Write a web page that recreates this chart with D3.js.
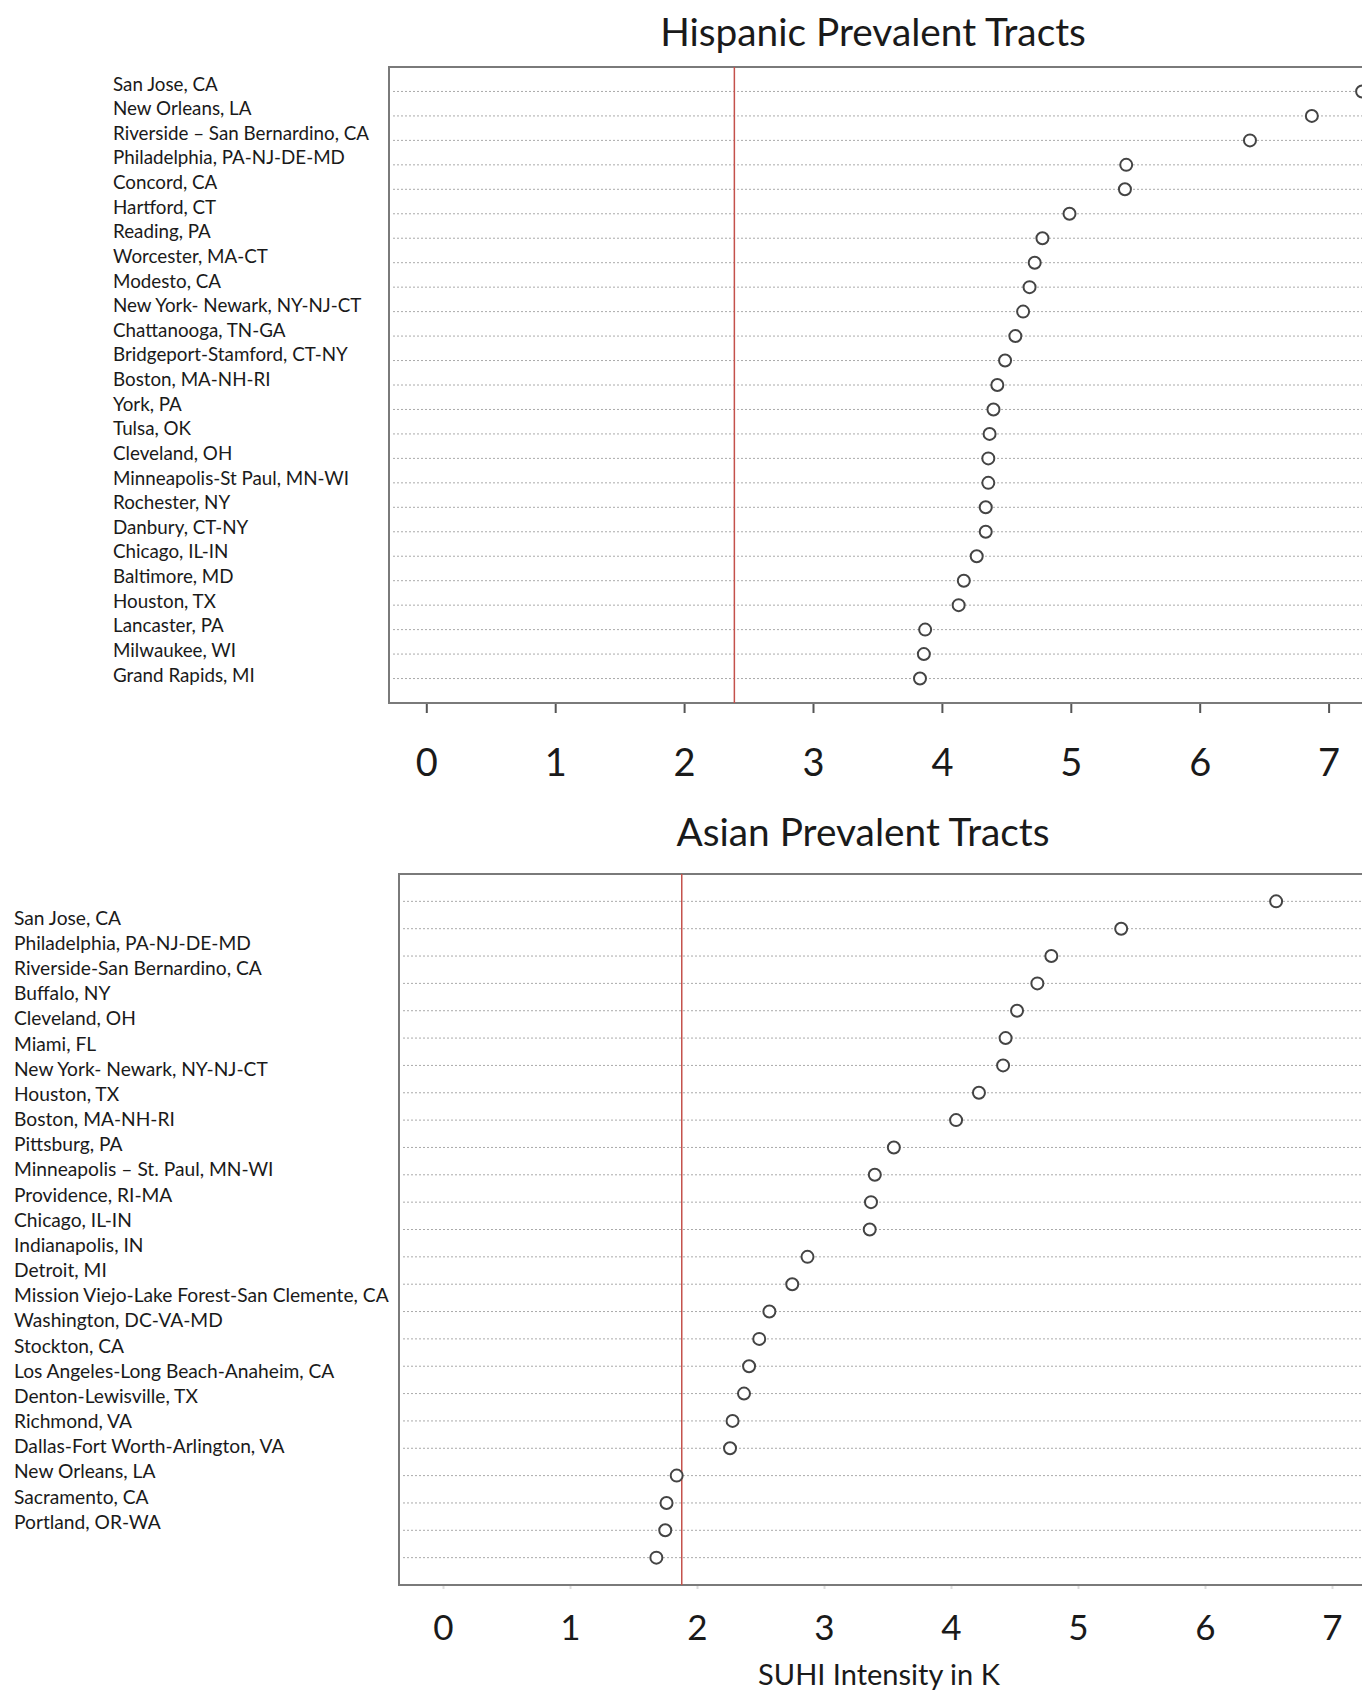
<!DOCTYPE html>
<html>
<head>
<meta charset="utf-8">
<script src="https://cdn.jsdelivr.net/npm/d3@7"></script>
<style>
  body { margin: 0; background: #fff; }
  svg text { font-family: Lato, "Open Sans", sans-serif; fill: #1a1a1a; }
</style>
</head>
<body>
<div id="chart"></div>
<script>
// values (SUHI intensity in K)
var hispCities = ["San Jose, CA", "New Orleans, LA", "Riverside \u2013 San Bernardino, CA", "Philadelphia, PA-NJ-DE-MD",
  "Concord, CA", "Hartford, CT", "Reading, PA", "Worcester, MA-CT", "Modesto, CA", "New York- Newark, NY-NJ-CT",
  "Chattanooga, TN-GA", "Bridgeport-Stamford, CT-NY", "Boston, MA-NH-RI", "York, PA", "Tulsa, OK", "Cleveland, OH",
  "Minneapolis-St Paul, MN-WI", "Rochester, NY", "Danbury, CT-NY", "Chicago, IL-IN", "Baltimore, MD", "Houston, TX",
  "Lancaster, PA", "Milwaukee, WI", "Grand Rapids, MI"];
var hispValues = [7.26, 6.87, 6.39, 5.43, 5.42, 4.99, 4.78, 4.72, 4.68, 4.63, 4.57, 4.49, 4.43, 4.40, 4.37,
  4.36, 4.36, 4.34, 4.34, 4.27, 4.17, 4.13, 3.87, 3.86, 3.83];
var hispRef = 2.39;

var asianCities = ["San Jose, CA", "Philadelphia, PA-NJ-DE-MD", "Riverside-San Bernardino, CA", "Buffalo, NY",
  "Cleveland, OH", "Miami, FL", "New York- Newark, NY-NJ-CT", "Houston, TX", "Boston, MA-NH-RI", "Pittsburg, PA",
  "Minneapolis \u2013 St. Paul, MN-WI", "Providence, RI-MA", "Chicago, IL-IN", "Indianapolis, IN", "Detroit, MI",
  "Mission Viejo-Lake Forest-San Clemente, CA", "Washington, DC-VA-MD", "Stockton, CA", "Los Angeles-Long Beach-Anaheim, CA",
  "Denton-Lewisville, TX", "Richmond, VA", "Dallas-Fort Worth-Arlington, VA", "New Orleans, LA", "Sacramento, CA",
  "Portland, OR-WA"];
var asianValues = [6.56, 5.34, 4.79, 4.68, 4.52, 4.43, 4.41, 4.22, 4.04, 3.55, 3.40, 3.37, 3.36, 2.87, 2.75,
  2.57, 2.49, 2.41, 2.37, 2.28, 2.26, 1.84, 1.76, 1.75, 1.68];
var asianRef = 1.88;

var xTicks = [0, 1, 2, 3, 4, 5, 6, 7];

var width = 1362;
var height = 1691;

var svg = d3.select('#chart').append('svg')
  .attr('width', width)
  .attr('height', height);

function dotPanel(p) {
  var g = svg.append('g');
  var x = d3.scaleLinear().domain([0, 7]).range(p.xRange);
  var y = d3.scalePoint().domain(p.cities).range([p.top, p.bottom]).padding(1);
  // the city names in the source are a separate text block, not quite aligned to the rows
  var yLab = d3.scalePoint().domain(p.cities).range(p.labelRange);

  g.append('rect')
    .attr('x', p.left).attr('y', p.top)
    .attr('width', width + 10 - p.left).attr('height', p.bottom - p.top)
    .attr('fill', 'none').attr('stroke', '#7a7a7a').attr('stroke-width', 2);

  g.selectAll('.grid').data(p.cities).enter().append('line')
    .attr('x1', p.left + 4).attr('x2', width)
    .attr('y1', function(d) { return y(d); })
    .attr('y2', function(d) { return y(d); })
    .attr('stroke', '#aaaaaa').attr('stroke-width', 1).attr('stroke-dasharray', '2,2');

  g.append('line')
    .attr('x1', x(p.ref)).attr('x2', x(p.ref))
    .attr('y1', p.top).attr('y2', p.bottom)
    .attr('stroke', '#c4514b').attr('stroke-width', 1.5);

  var axis = d3.axisBottom(x).tickValues(xTicks).tickSize(p.tickLen).tickPadding(p.tickPad).tickFormat(d3.format('d'));
  var ax = g.append('g')
    .attr('transform', 'translate(0,' + (p.bottom + 1) + ')')
    .call(axis);
  ax.select('.domain').remove();
  ax.selectAll('.tick line').attr('stroke', p.tickColor).attr('stroke-width', 2);
  ax.selectAll('.tick text')
    .attr('font-size', p.tickFont)
    .attr('font-family', 'Lato, "Open Sans", sans-serif')
    .attr('fill', '#111');

  g.selectAll('.dot').data(p.values).enter().append('circle')
    .attr('cx', function(d) { return x(d); })
    .attr('cy', function(d, i) { return y(p.cities[i]); })
    .attr('r', 6)
    .attr('fill', '#fff').attr('stroke', '#444').attr('stroke-width', 2);

  g.selectAll('.lab').data(p.cities).enter().append('text')
    .attr('x', p.labelX)
    .attr('y', function(d) { return yLab(d); })
    .attr('dy', '0.35em')
    .attr('font-size', p.labelFont)
    .text(function(d) { return d; });

  g.append('text')
    .attr('x', p.titleX).attr('y', p.titleY)
    .attr('text-anchor', 'middle').attr('dy', '0.35em')
    .attr('font-size', 38.8)
    .text(p.title);
}

dotPanel({
  title: 'Hispanic Prevalent Tracts', titleX: 873, titleY: 32,
  cities: hispCities, values: hispValues, ref: hispRef,
  left: 389, top: 67, bottom: 703, xRange: [426.3, 1328.6],
  labelX: 113, labelRange: [84, 675], labelFont: 18.8,
  tickLen: 9, tickPad: 36, tickFont: 38, tickColor: '#555'
});

dotPanel({
  title: 'Asian Prevalent Tracts', titleX: 863, titleY: 832,
  cities: asianCities, values: asianValues, ref: asianRef,
  left: 399, top: 874, bottom: 1585, xRange: [443, 1332],
  labelX: 14, labelRange: [918, 1522], labelFont: 19.2,
  tickLen: 3, tickPad: 26, tickFont: 35, tickColor: '#ddd'
});

svg.append('text')
  .attr('x', 879).attr('y', 1675)
  .attr('text-anchor', 'middle').attr('dy', '0.35em')
  .attr('font-size', 29)
  .text('SUHI Intensity in K');
</script>
</body>
</html>
